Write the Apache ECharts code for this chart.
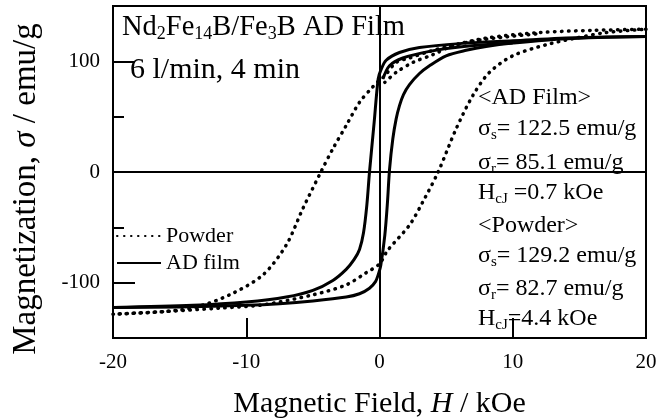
<!DOCTYPE html>
<html>
<head>
<meta charset="utf-8">
<script src="https://cdn.jsdelivr.net/npm/echarts@6.0.0/dist/echarts.min.js"></script>
<style>
  html,body{margin:0;padding:0;background:#fff;}
  #main{width:668px;height:419px;}
</style>
</head>
<body>
<div id="main"></div>
<script>
// AD film loop (solid)
var filmDescH = [20, 15, 10, 6, 3, 1.5, 0.5, 0.1, -0.1, -0.4, -0.75, -0.95, -1.2, -1.5, -1.9, -2.5, -3.5, -5, -7, -10, -14, -20];
var filmDescM = [122.5, 121.5, 118.5, 116, 112.5, 108, 101, 92, 84, 45, 0, -30, -55, -70, -79, -88, -98, -107, -113, -117.5, -120.5, -122.5];
var filmAscH = [-20, -15, -10, -7.5, -5, -2.5, -1.5, -0.75, -0.3, -0.1, 0.1, 0.4, 0.6, 0.75, 1, 1.25, 1.5, 1.8, 2.25, 3, 3.75, 5, 6.5, 8, 10, 14, 20];
var filmAscM = [-122.5, -122, -120.5, -119, -116.5, -113, -110, -105, -99, -93, -84, -57, -27, 2, 30, 48, 60, 70, 79, 89, 96, 105, 110, 113.5, 116.5, 120.5, 122.5];
var filmVirginH = [0.25, 0.75, 1.75, 3.75, 6, 10];
var filmVirginM = [84, 96, 103, 109, 113, 116.5];

// powder loop (dotted)
var powderDescH = [20, 16, 12, 8, 5, 3.5, 2.25, 1.25, 0.4, 0, -0.5, -1.5, -2.5, -3.5, -4.4, -5.75, -7, -8.75, -11.25, -13.75, -16, -20];
var powderDescM = [129, 128, 126, 121, 113, 108, 103, 99, 87, 83, 77, 63, 42, 21, 0, -33, -66, -93, -111, -122, -126, -128.5];
var powderAscH = [-20, -16, -12, -8.75, -5, -2.5, -1, 0, 0.6, 2.25, 3.25, 4.4, 5.75, 7, 8.25, 10, 12.5, 14.75, 17, 20];
var powderAscM = [-128.5, -126, -123, -120, -111, -102, -91, -83, -71, -48, -27, 0, 39, 69, 90, 105, 115, 121, 126, 129];
var powderVirginH = [0.4, 1.25, 2.5, 4, 5.5, 8, 12];
var powderVirginM = [81, 90, 99, 106, 114, 120, 125];

var yMajorTicks = [-100, 0, 100];
var yMinorTicks = [-50, 50];

function pairs(h, m) {
    var out = [];
    for (var i = 0; i < h.length; i++) {
        out.push([h[i], m[i]]);
    }
    return out;
}

var serif = 'Liberation Serif';
var subRich = {
    s: {font: '15px ' + serif, lineHeight: 15, verticalAlign: 'bottom', fill: '#000'},
    n: {font: '24px ' + serif, lineHeight: 28, fill: '#000'}
};

function solid(data) {
    return {
        name: 'AD film', type: 'line', data: data, symbol: 'none', smooth: 0.3,
        itemStyle: {color: '#000'},
        lineStyle: {color: '#000', width: 3}, z: 3
    };
}
function dotted(data) {
    return {
        name: 'Powder', type: 'line', data: data, symbol: 'none', smooth: 0.3,
        itemStyle: {color: '#000'},
        lineStyle: {color: '#000', width: 3.5, type: [0.5, 6.5], cap: 'round'}, z: 3
    };
}

function note(y, text) {
    return {
        type: 'text', left: 478, top: y - 11,
        style: {text: text, rich: subRich, fill: '#000', font: '24px ' + serif}
    };
}

var myChart = echarts.init(document.getElementById('main'));
var option = {
    backgroundColor: '#fff',
    animation: false,
    grid: {left: 113, right: 22, top: 6, bottom: 81, outerBoundsMode: 'none', containLabel: false,
        show: true, borderColor: '#000', borderWidth: 2},
    legend: {
        orient: 'vertical', left: 116, top: 225, padding: 0, itemWidth: 44, itemHeight: 14, itemGap: 5,
        data: ['Powder', 'AD film'],
        itemStyle: {opacity: 0},
        textStyle: {fontFamily: serif, fontSize: 22, color: '#000'}
    },
    xAxis: {
        type: 'value', min: -20, max: 20, interval: 10,
        name: 'Magnetic Field, {i|H} / kOe', nameLocation: 'middle', nameGap: 51,
        nameTextStyle: {fontFamily: serif, fontSize: 30, color: '#000', rich: {i: {fontFamily: serif, fontSize: 30, fontStyle: 'italic', color: '#000'}}},
        axisLine: {show: false, onZero: false},
        axisTick: {inside: true, length: 20, lineStyle: {color: '#000', width: 2}},
        axisLabel: {fontFamily: serif, fontSize: 21, color: '#000', margin: 14},
        splitLine: {show: false}
    },
    yAxis: [{
        type: 'value', min: -150, max: 150, interval: 50,
        axisLine: {show: false, onZero: false},
        axisTick: {inside: true, length: 22, customValues: yMajorTicks, lineStyle: {color: '#000', width: 2}},
        axisLabel: {fontFamily: serif, fontSize: 21, color: '#000', margin: 13, customValues: yMajorTicks},
        splitLine: {show: false}
    }, {
        type: 'value', min: -150, max: 150, interval: 50, position: 'left',
        axisLine: {show: false, onZero: false},
        axisTick: {inside: true, length: 11, customValues: yMinorTicks, lineStyle: {color: '#000', width: 2}},
        axisLabel: {show: false},
        splitLine: {show: false}
    }],
    graphic: [
        {
            type: 'text', left: 122, top: 13,
            style: {text: '{t|Nd}{u|2}{t|Fe}{u|14}{t|B/Fe}{u|3}{t|B AD Film}', font: '28.5px ' + serif, fill: '#000', rich: {
                t: {font: '28.5px ' + serif, lineHeight: 32, fill: '#000'},
                u: {font: '18px ' + serif, lineHeight: 18, verticalAlign: 'bottom', fill: '#000'}
            }}
        },
        {
            type: 'text', left: 130, top: 55,
            style: {text: '6 l/min, 4 min', fill: '#000', font: '30px ' + serif}
        },
        {
            type: 'text', x: 26, y: 189, rotation: Math.PI / 2,
            style: {text: '{n|Magnetization, }{i|σ}{n| / emu/g}', align: 'center', verticalAlign: 'middle', font: '33px ' + serif, fill: '#000', rich: {
                n: {font: '33px ' + serif, fill: '#000'},
                i: {font: 'italic 33px ' + serif, fill: '#000'}
            }}
        },
        note(97, '{n|<AD Film>}'),
        note(128, '{n|σ}{s|s}{n|= 122.5 emu/g}'),
        note(162, '{n|σ}{s|r}{n|= 85.1 emu/g}'),
        note(192, '{n|H}{s|cJ}{n| =0.7 kOe}'),
        note(225, '{n|<Powder>}'),
        note(255, '{n|σ}{s|s}{n|= 129.2 emu/g}'),
        note(288, '{n|σ}{s|r}{n|= 82.7 emu/g}'),
        note(318, '{n|H}{s|cJ}{n|=4.4 kOe}')
    ],
    series: [
        dotted(pairs(powderDescH, powderDescM)),
        dotted(pairs(powderAscH, powderAscM)),
        dotted(pairs(powderVirginH, powderVirginM)),
        solid(pairs(filmDescH, filmDescM)),
        solid(pairs(filmAscH, filmAscM)),
        solid(pairs(filmVirginH, filmVirginM)),
        {
            type: 'line', data: [], silent: true,
            markLine: {
                silent: true, symbol: 'none', label: {show: false},
                lineStyle: {color: '#000', width: 2, type: 'solid'},
                data: [{xAxis: 0}, {yAxis: 0}]
            }
        }
    ]
};
myChart.setOption(option);
</script>
</body>
</html>
